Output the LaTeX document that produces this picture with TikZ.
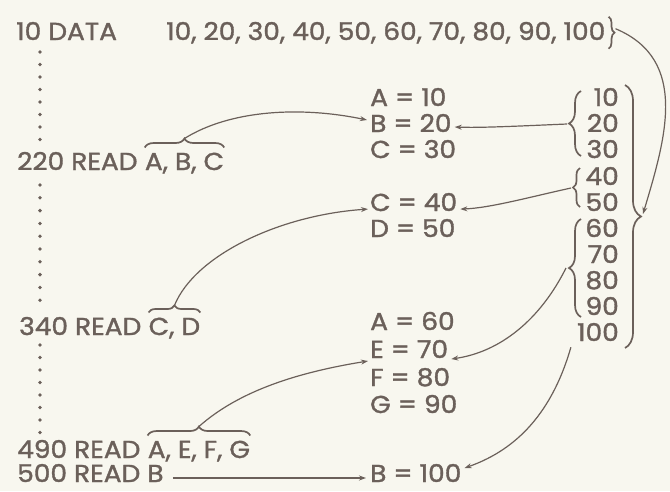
\documentclass[tikz,border=0pt]{standalone}
\usepackage{fontspec}
\setmainfont{Poppins}[FakeBold=1.4,FakeStretch=1.08]
\usetikzlibrary{decorations.pathreplacing,arrows.meta}
\definecolor{ink}{HTML}{6B605A}
\definecolor{paper}{HTML}{F8F7EF}
\begin{document}
\begin{tikzpicture}[x=1pt,y=-1pt,
  txt/.style={text=ink,font=\fontsize{24.5}{24.5}\selectfont,inner sep=0pt},
  lft/.style={txt,anchor=base west},
  num/.style={txt,anchor=base east},
  conn/.style={draw=ink,line width=1.2pt,-{Stealth[length=7pt,width=5pt]}},
  brc/.style={draw=ink,line width=1.7pt,decorate,decoration={brace,amplitude=#1}},
  dotmark/.style={fill=ink}
]
\fill[paper] (0,0) rectangle (670,491);
\useasboundingbox (0,0) rectangle (670,491);

% left column
\node[lft] (l10) at (16,40) {10 DATA};
\node[lft] (data) at (166,40) {10, 20, 30, 40, 50, 60, 70, 80, 90, 100};
\node[lft] (r220) at (17,170) {220 READ};
\node[lft] (v220) at ([xshift=7pt]r220.base east) {A, B, C};
\node[lft] (r340) at (19,335) {340 READ};
\node[lft] (v340) at ([xshift=7pt]r340.base east) {C, D};
\node[lft] (r490) at (17,458) {490 READ};
\node[lft] (v490) at ([xshift=7pt]r490.base east) {A, E, F, G};
\node[lft] (r500) at (17,482) {500 READ B};

% dotted lines
\foreach \y in {52,64.5,77,89.5,102,114.5,127,139.5} \fill[dotmark] (40,\y) circle (1.9pt);
\foreach \y in {185,197.8,210.6,223.4,236.2,249,261.8,274.6,287.4,300.2} \fill[dotmark] (40,\y) circle (1.9pt);
\foreach \y in {345,357.5,370,382.5,395,407.5,420,432.5} \fill[dotmark] (40,\y) circle (1.9pt);

% assignments
\node[lft] (a10) at (370,106) {A = 10};
\node[lft] (b20) at (370,132) {B = 20};
\node[lft] (c30) at (370,158) {C = 30};
\node[lft] (c40) at (370,211) {C = 40};
\node[lft] (d50) at (370,237) {D = 50};
\node[lft] (a60) at (370,330) {A = 60};
\node[lft] (e70) at (370,358) {E = 70};
\node[lft] (f80) at (370,386) {F = 80};
\node[lft] (g90) at (370,413) {G = 90};
\node[lft] (b100) at (370,482) {B = 100};

% number column
\node[num] (n10) at (619,106) {10};
\node[num] (n20) at (619,132) {20};
\node[num] (n30) at (619,158) {30};
\node[num] (n40) at (619,185) {40};
\node[num] (n50) at (619,211) {50};
\node[num] (n60) at (619,237) {60};
\node[num] (n70) at (619,263) {70};
\node[num] (n80) at (619,289) {80};
\node[num] (n90) at (619,315) {90};
\node[num] (n100) at (619,341) {100};

% braces
\draw[brc=6pt] ([xshift=3pt,yshift=5pt]data.north east) -- ++(0,32);
\coordinate (tData) at ([xshift=10pt,yshift=4pt]data.east);
\draw[brc=12pt] (581,156) -- (581,91);
\coordinate (tA) at (567,124);
\draw[brc=7pt] (580,207) -- (580,168);
\coordinate (tB) at (571,188);
\draw[brc=12pt] (581,317) -- (581,219);
\coordinate (tC) at (566,268);
\draw[brc=16pt] (625,85) -- (625,348);
\coordinate (tBig) at (643,214);
\draw[brc=9pt] ([yshift=5pt]v220.north west) -- ([yshift=5pt]v220.north east);
\coordinate (t220) at ([yshift=14pt]v220.north);
\draw[brc=7pt] ([yshift=5pt]v340.north west) -- ([yshift=5pt]v340.north east);
\coordinate (t340) at ([yshift=12pt]v340.north);
\draw[brc=9pt] ([yshift=5pt]v490.north west) -- ([yshift=5pt]v490.north east);
\coordinate (t490) at ([yshift=14pt]v490.north);
\coordinate (s100) at ([xshift=-6pt,yshift=-6pt]n100.south west);

% connectors
\draw[conn] (tData) .. controls (690,60) and (665,140) .. (tBig);
\draw[conn] (t220) .. controls (230,110) and (300,106) .. ([xshift=-3pt,yshift=3pt]b20.west);
\draw[conn] (tA) .. controls (520,126) and (480,128) .. ([xshift=3pt,yshift=-4pt]b20.east);
\draw[conn] (tB) .. controls (530,197) and (490,208) .. ([xshift=3pt,yshift=-7pt]c40.east);
\draw[conn] (t340) .. controls (195,255) and (280,215) .. ([xshift=-2pt,yshift=-7pt]c40.west);
\draw[conn] (tC) .. controls (540,320) and (500,352) .. ([xshift=3pt,yshift=-10pt]e70.east);
\draw[conn] (t490) .. controls (240,390) and (300,372) .. ([xshift=-2pt,yshift=-12pt]e70.west);
\draw[conn] (s100) .. controls (550,420) and (510,452) .. ([xshift=3pt,yshift=5pt]b100.east);
\draw[conn] ([xshift=9pt,yshift=4pt]r500.base east) -- ([xshift=-4pt,yshift=4pt]b100.base west);
\end{tikzpicture}
\end{document}
